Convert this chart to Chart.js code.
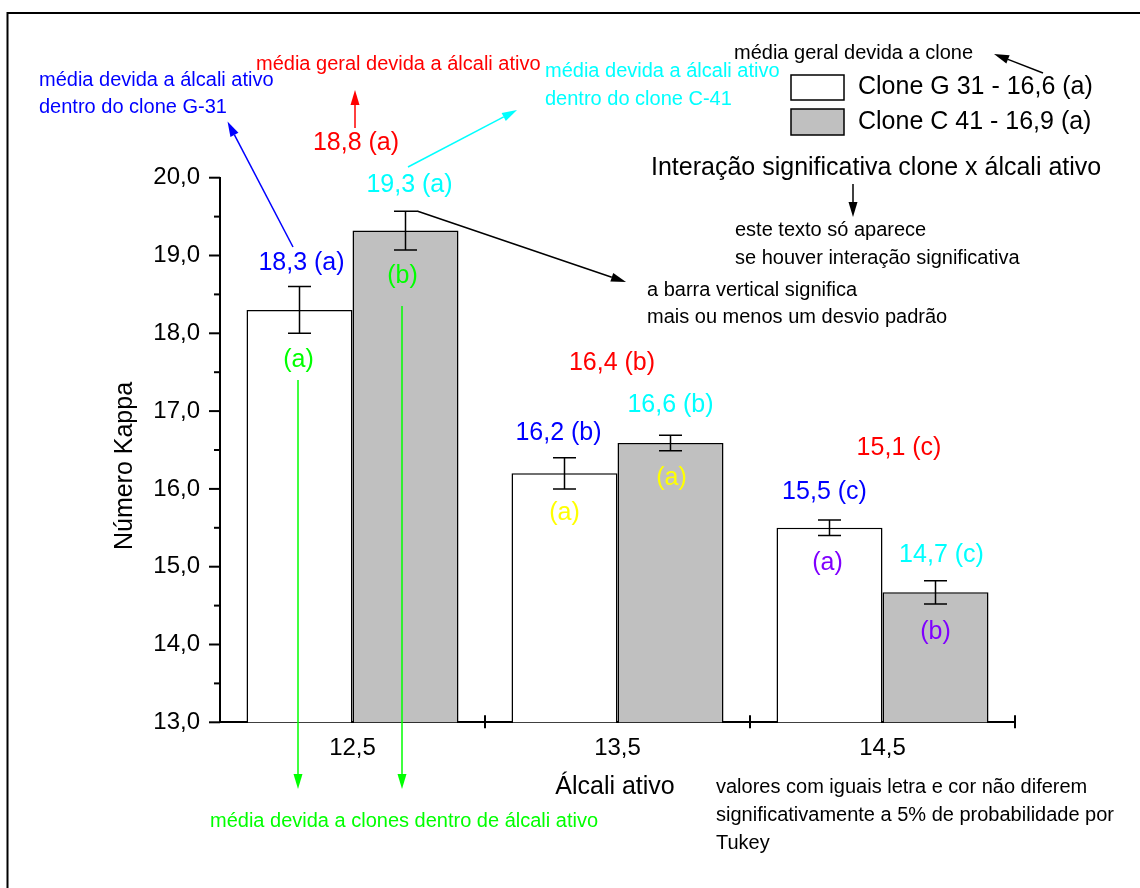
<!DOCTYPE html>
<html><head><meta charset="utf-8">
<script src="https://cdn.jsdelivr.net/npm/chart.js@4.4.1/dist/chart.umd.min.js"></script>
<style>html,body{margin:0;padding:0;background:#fff}canvas{display:block}</style>
</head><body>
<canvas id="c" width="1140" height="888"></canvas>
<script>
// ---------- data ----------
const categories = ['12,5', '13,5', '14,5'];
const seriesNames = ['Clone G 31', 'Clone C 41'];
const cloneMeans = ['16,6 (a)', '16,9 (a)'];
const g31Values = [18.3, 16.2, 15.5];
const c41Values = [19.32, 16.59, 14.67];
const g31Err = [0.3, 0.2, 0.1];
const c41Err = [0.25, 0.1, 0.15];
const g31Labels = ['18,3 (a)', '16,2 (b)', '15,5 (c)'];
const c41Labels = ['19,3 (a)', '16,6 (b)', '14,7 (c)'];
const g31Letters = ['(a)', '(a)', '(a)'];
const c41Letters = ['(b)', '(a)', '(b)'];
const alkaliMeans = ['18,8 (a)', '16,4 (b)', '15,1 (c)'];
const yMin = 13, yMax = 20, yStep = 1;

// ---------- styling / layout ----------
const FAM = '"Liberation Sans", Arial, sans-serif';
const BLUE = '#0000ff', RED = '#ff0000', CYAN = '#00ffff', GREEN = '#00ff00', YELLOW = '#ffff00', PURPLE = '#8000ff';
const letterColors = [GREEN, YELLOW, PURPLE];
const topNudgeG = [[2, -24], [-6, -25], [-5, -28]];
const topNudgeC = [[4, -26], [0, -30], [6, -26]];
const inNudgeG = [[-1, 27], [0, 24], [-2, 28]];
const inNudgeC = [[-3, 26], [1, 27], [0, 28]];
const meanPos = [[356, 143], [612, 363], [899, 448]];

const notes = [
  {t: 'média devida a álcali ativo', x: 39, y: 80, c: BLUE},
  {t: 'dentro do clone G-31', x: 39, y: 107, c: BLUE},
  {t: 'média geral devida a álcali ativo', x: 256, y: 64, c: RED},
  {t: 'média devida a álcali ativo', x: 545, y: 71, c: CYAN},
  {t: 'dentro do clone C-41', x: 545, y: 99, c: CYAN},
  {t: 'média geral devida a clone', x: 734, y: 53, c: '#000'},
  {t: 'Interação significativa clone x álcali ativo', x: 651, y: 168, c: '#000', s: 25},
  {t: 'este texto só aparece', x: 735, y: 230, c: '#000'},
  {t: 'se houver interação significativa', x: 735, y: 258, c: '#000'},
  {t: 'a barra vertical significa', x: 647, y: 290, c: '#000'},
  {t: 'mais ou menos um desvio padrão', x: 647, y: 317, c: '#000'},
  {t: 'média devida a clones dentro de álcali ativo', x: 210, y: 821, c: GREEN},
  {t: 'valores com iguais letra e cor não diferem', x: 716, y: 787, c: '#000'},
  {t: 'significativamente a 5% de probabilidade por', x: 716, y: 815, c: '#000'},
  {t: 'Tukey', x: 716, y: 843, c: '#000'}
];
const arrows = [
  {x1: 293, y1: 247, x2: 227.5, y2: 121.5, c: BLUE},
  {x1: 355, y1: 128, x2: 355, y2: 90, c: RED},
  {x1: 408, y1: 167, x2: 517, y2: 110, c: CYAN},
  {x1: 417, y1: 211, x2: 626, y2: 282, c: '#000'},
  {x1: 1043, y1: 73, x2: 994, y2: 54, c: '#000'},
  {x1: 853, y1: 184, x2: 853, y2: 217, c: '#000'},
  {x1: 298, y1: 380, x2: 298, y2: 789, c: GREEN},
  {x1: 402, y1: 306, x2: 402, y2: 789, c: GREEN}
];

function fnt(px) { return px + 'px ' + FAM; }
function drawArrow(ctx, a) {
  const dx = a.x2 - a.x1, dy = a.y2 - a.y1, L = Math.hypot(dx, dy);
  const ux = dx / L, uy = dy / L, hl = 15, hw = 4.5;
  const bx = a.x2 - ux * hl, by = a.y2 - uy * hl;
  ctx.strokeStyle = a.c; ctx.fillStyle = a.c; ctx.lineWidth = 1.5;
  ctx.beginPath(); ctx.moveTo(a.x1, a.y1); ctx.lineTo(bx, by); ctx.stroke();
  ctx.beginPath(); ctx.moveTo(a.x2, a.y2);
  ctx.lineTo(bx - uy * hw, by + ux * hw); ctx.lineTo(bx + uy * hw, by - ux * hw);
  ctx.closePath(); ctx.fill();
}
function text(ctx, t, x, y, c, s, align) {
  ctx.font = fnt(s || 20); ctx.fillStyle = c; ctx.textAlign = align || 'left'; ctx.textBaseline = 'middle';
  ctx.fillText(t, x, y);
}

const annot = {
  id: 'annot',
  afterDraw(chart) {
    const ctx = chart.ctx, xs = chart.scales.x, ys = chart.scales.y, ca = chart.chartArea;
    ctx.save();
    // frame
    ctx.strokeStyle = '#000'; ctx.lineWidth = 2;
    ctx.beginPath(); ctx.moveTo(7.5, 888); ctx.lineTo(7.5, 13); ctx.lineTo(1140, 13); ctx.stroke();
    // y ticks (major & minor)
    ctx.lineWidth = 2;
    for (let v = yMin; v <= yMax + 1e-9; v += yStep / 2) {
      const y = ys.getPixelForValue(v);
      const major = Math.abs(v - Math.round(v)) < 1e-9;
      ctx.beginPath(); ctx.moveTo(ca.left - (major ? 11 : 6), y); ctx.lineTo(ca.left, y); ctx.stroke();
    }
    // x ticks at category boundaries
    const n = categories.length;
    for (let i = 0; i < n; i++) {
      const x = i < n - 1 ? (xs.getPixelForTick(i) + xs.getPixelForTick(i + 1)) / 2 : ca.right;
      ctx.beginPath(); ctx.moveTo(x, ca.bottom - 7); ctx.lineTo(x, ca.bottom + 6); ctx.stroke();
    }
    // error bars and bar labels
    const sets = [
      {vals: g31Values, err: g31Err, labels: g31Labels, letters: g31Letters, tn: topNudgeG, inn: inNudgeG, col: BLUE},
      {vals: c41Values, err: c41Err, labels: c41Labels, letters: c41Letters, tn: topNudgeC, inn: inNudgeC, col: CYAN}
    ];
    sets.forEach((s, di) => {
      const meta = chart.getDatasetMeta(di);
      meta.data.forEach((bar, i) => {
        const x = bar.x;
        const yt = ys.getPixelForValue(s.vals[i] + s.err[i]);
        const yb = ys.getPixelForValue(s.vals[i] - s.err[i]);
        ctx.strokeStyle = '#000'; ctx.lineWidth = 1.5;
        ctx.beginPath();
        ctx.moveTo(x, yt); ctx.lineTo(x, yb);
        ctx.moveTo(x - 11.5, yt); ctx.lineTo(x + 11.5, yt);
        ctx.moveTo(x - 11.5, yb); ctx.lineTo(x + 11.5, yb);
        ctx.stroke();
        text(ctx, s.labels[i], x + s.tn[i][0], yt + s.tn[i][1], s.col, 25, 'center');
        text(ctx, s.letters[i], x + s.inn[i][0], yb + s.inn[i][1], letterColors[i], 25, 'center');
      });
    });
    // general means per alkali level
    alkaliMeans.forEach((t, i) => text(ctx, t, meanPos[i][0], meanPos[i][1], RED, 25, 'center'));
    // legend
    const fills = chart.data.datasets.map(d => d.backgroundColor);
    [[75, 25], [109, 26]].forEach((b, i) => {
      ctx.fillStyle = fills[i]; ctx.fillRect(791, b[0], 53, b[1]);
      ctx.strokeStyle = '#000'; ctx.lineWidth = 1.5; ctx.strokeRect(791, b[0], 53, b[1]);
      text(ctx, seriesNames[i] + ' - ' + cloneMeans[i], 858, b[0] + b[1] / 2, '#000', 25, 'left');
    });
    // axis titles
    text(ctx, 'Álcali ativo', 615, 787, '#000', 25, 'center');
    ctx.save(); ctx.translate(125, 466); ctx.rotate(-Math.PI / 2);
    text(ctx, 'Número Kappa', 0, 0, '#000', 25, 'center'); ctx.restore();
    // notes & arrows
    notes.forEach(o => text(ctx, o.t, o.x, o.y, o.c, o.s || 20, 'left'));
    arrows.forEach(a => drawArrow(ctx, a));
    ctx.restore();
  }
};

new Chart(document.getElementById('c'), {
  type: 'bar',
  data: {
    labels: categories,
    datasets: [
      {label: seriesNames[0], data: g31Values, backgroundColor: '#ffffff', borderColor: '#000', borderWidth: 1.5, borderSkipped: false},
      {label: seriesNames[1], data: c41Values, backgroundColor: '#c0c0c0', borderColor: '#000', borderWidth: 1.5, borderSkipped: false}
    ]
  },
  options: {
    responsive: false, animation: false, devicePixelRatio: 1,
    layout: {padding: {left: 100, right: 125, top: 177.7, bottom: 125.7}},
    datasets: {bar: {categoryPercentage: 0.8, barPercentage: 1.0}},
    plugins: {legend: {display: false}, tooltip: {enabled: false}},
    scales: {
      x: {
        type: 'category', offset: true,
        grid: {display: false, drawTicks: false},
        border: {display: true, color: '#000', width: 2},
        ticks: {color: '#000', font: {family: FAM, size: 24}, padding: 12},
        afterFit(s) { s.height = 40; }
      },
      y: {
        min: yMin, max: yMax,
        grid: {display: false, drawTicks: false},
        border: {display: true, color: '#000', width: 2},
        ticks: {stepSize: yStep, color: '#000', font: {family: FAM, size: 24}, padding: 20,
          callback: v => Number(v).toFixed(1).replace('.', ',')},
        afterFit(s) { s.width = 120; }
      }
    }
  },
  plugins: [annot]
});
</script>
</body></html>
